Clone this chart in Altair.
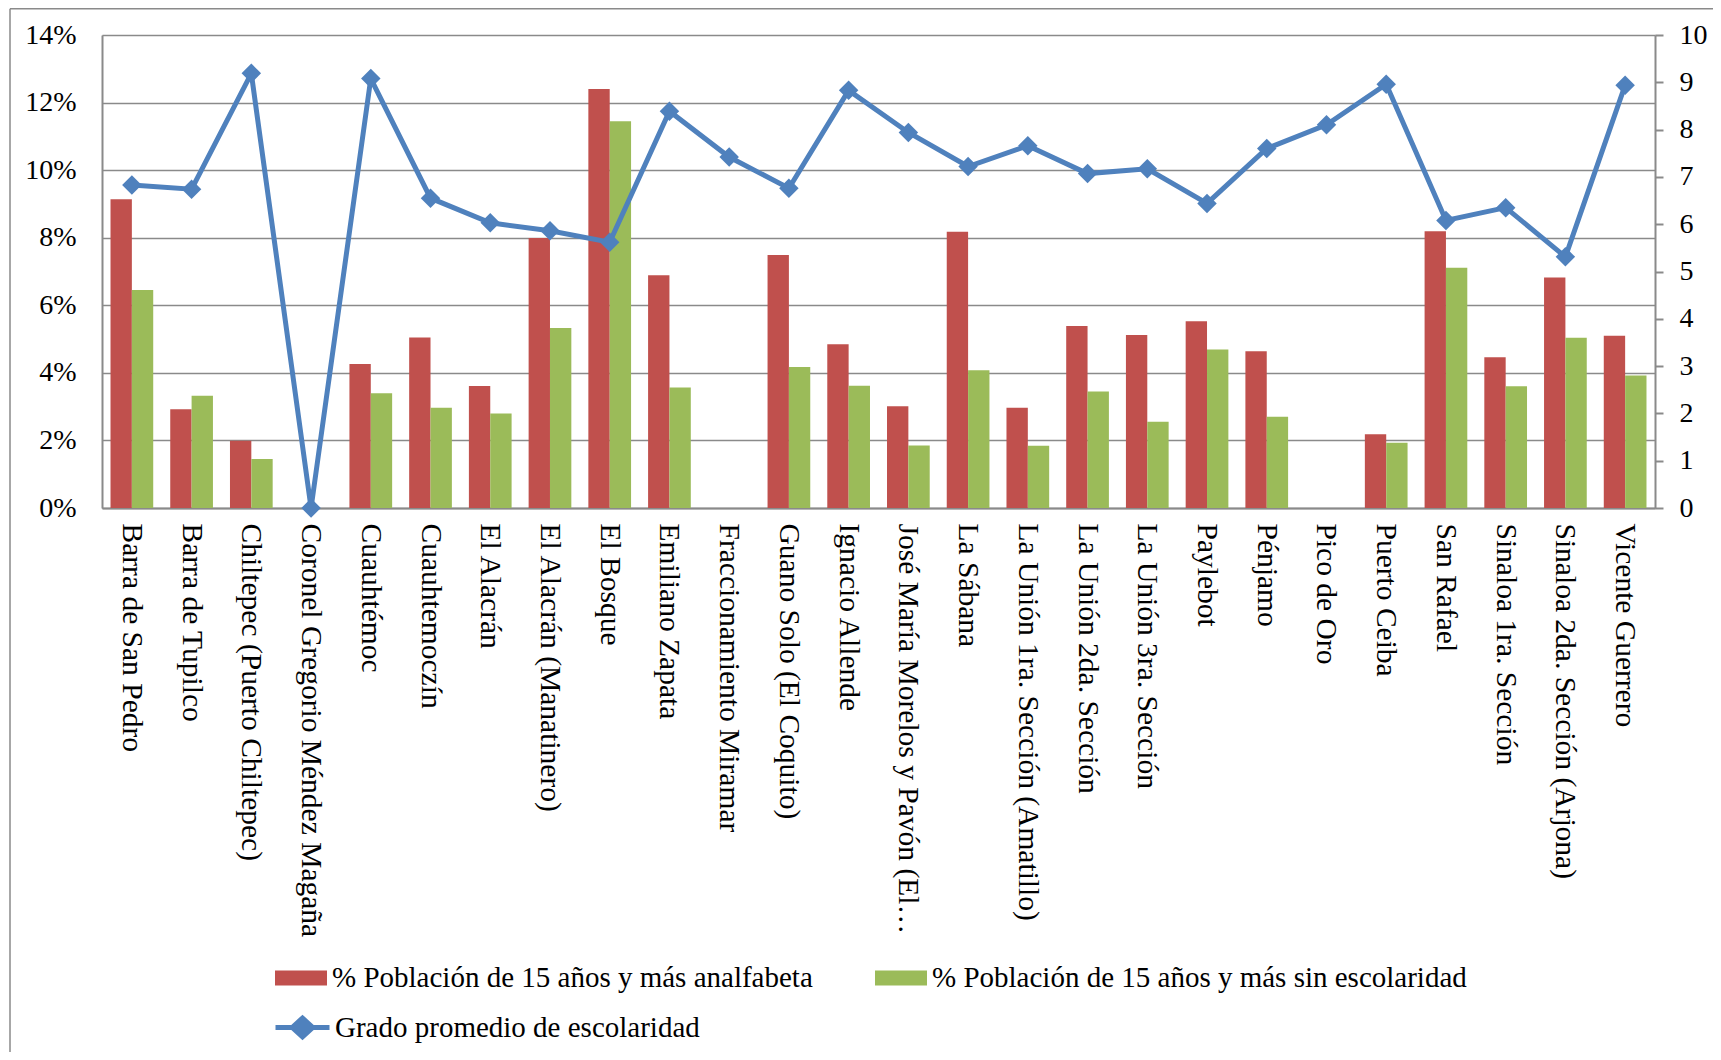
import altair as alt
import pandas as pd

categorias = [
    "Barra de San Pedro", "Barra de Tupilco", "Chiltepec (Puerto Chiltepec)",
    "Coronel Gregorio Méndez Magaña", "Cuauhtémoc", "Cuauhtemoczín", "El Alacrán",
    "El Alacrán (Manatinero)", "El Bosque", "Emiliano Zapata", "Fraccionamiento Miramar",
    "Guano Solo (El Coquito)", "Ignacio Allende", "José María Morelos y Pavón (El…",
    "La Sábana", "La Unión 1ra. Sección (Amatillo)", "La Unión 2da. Sección",
    "La Unión 3ra. Sección", "Paylebot", "Pénjamo", "Pico de Oro", "Puerto Ceiba",
    "San Rafael", "Sinaloa 1ra. Sección", "Sinaloa 2da. Sección (Arjona)", "Vicente Guerrero",
]
analfabeta = [9.14, 2.92, 1.99, 0, 4.26, 5.05, 3.61, 7.99, 12.40, 6.89, None, 7.49, 4.85,
              3.01, 8.18, 2.97, 5.39, 5.12, 5.53, 4.64, None, 2.18, 8.19, 4.46, 6.82, 5.10]
sin_escolaridad = [6.45, 3.32, 1.45, 0, 3.40, 2.97, 2.80, 5.33, 11.45, 3.57, None, 4.17, 3.62,
                   1.85, 4.08, 1.84, 3.45, 2.55, 4.69, 2.70, None, 1.93, 7.11, 3.60, 5.04, 3.92]
grado = [6.83, 6.74, 9.19, 0, 9.08, 6.55, 6.03, 5.86, 5.62, 8.39, 7.42, 6.76, 8.83,
         7.94, 7.22, 7.66, 7.07, 7.17, 6.44, 7.60, 8.10, 8.96, 6.08, 6.35, 5.31, 8.94]

S1 = "% Población de 15 años y más analfabeta"
S2 = "% Población de 15 años y más sin escolaridad"
S3 = "Grado promedio de escolaridad"
series_barras = [S1, S2]

RED, GREEN, BLUE = "#C0504D", "#9BBB59", "#4F81BD"
GRAY = "#8a8a8a"
FONT = "Liberation Serif"

rows = []
for c, a, s in zip(categorias, analfabeta, sin_escolaridad):
    rows.append({"cat": c, "serie": S1, "valor": a})
    rows.append({"cat": c, "serie": S2, "valor": s})
df_bars = pd.DataFrame(rows)
df_line = pd.DataFrame({"cat": categorias, "grado": grado, "serie_l": [S3] * len(categorias)})

x_axis = alt.Axis(title=None, labelAngle=90, labelAlign="left", labelBaseline="middle",
                  ticks=False, labelPadding=15, domainColor=GRAY, domainWidth=2,
                  labelFont=FONT, labelFontSize=29.5, labelColor="black", labelLimit=1000)
x_scale = alt.Scale(paddingInner=0.285, paddingOuter=0.1425)

rect_path = "M-1,-0.29H1V0.29H-1Z"
line_path = "M-1,0H1M0,-0.35L0.38,0L0,0.35L-0.38,0Z"

bars = alt.Chart(df_bars).mark_bar().encode(
    x=alt.X("cat:N", sort=categorias, scale=x_scale, axis=x_axis),
    xOffset=alt.XOffset("serie:N", sort=series_barras),
    y=alt.Y("valor:Q", scale=alt.Scale(domain=[0, 14], nice=False),
            axis=alt.Axis(title=None, orient="left", values=list(range(0, 15, 2)),
                          labelExpr="datum.value + '%'", grid=True, gridColor=GRAY,
                          gridWidth=1.5, ticks=False, labelPadding=26, domainColor=GRAY,
                          domainWidth=2, labelFont=FONT, labelFontSize=28,
                          labelColor="black")),
    color=alt.Color("serie:N", sort=series_barras,
                    scale=alt.Scale(domain=series_barras, range=[RED, GREEN]),
                    legend=alt.Legend(title=None, orient="none", legendX=173, legendY=917,
                                      direction="horizontal", columns=2, padding=0,
                                      symbolType=rect_path, symbolSize=2704,
                                      symbolStrokeWidth=0, labelOffset=5, columnPadding=62,
                                      labelFont=FONT, labelFontSize=29, labelColor="black",
                                      labelLimit=1000)),
)

line = alt.Chart(df_line).mark_line(
    strokeWidth=5,
    point=alt.OverlayMarkDef(shape="diamond", size=380, filled=True, color=BLUE),
).encode(
    x=alt.X("cat:N", sort=categorias, scale=x_scale, axis=x_axis),
    y=alt.Y("grado:Q", scale=alt.Scale(domain=[0, 10], nice=False),
            axis=alt.Axis(title=None, orient="right", values=list(range(0, 11)), grid=False,
                          tickSize=8, tickColor=GRAY, tickWidth=2, labelPadding=16,
                          domainColor=GRAY, domainWidth=2, labelFont=FONT,
                          labelFontSize=28, labelColor="black")),
    color=alt.Color("serie_l:N",
                    scale=alt.Scale(domain=[S3], range=[BLUE]),
                    legend=alt.Legend(title=None, orient="none", legendX=171, legendY=963,
                                      padding=0, symbolType=line_path, symbolSize=2916,
                                      symbolStrokeWidth=5, symbolFillColor=BLUE,
                                      symbolStrokeColor=BLUE, labelOffset=3,
                                      labelFont=FONT, labelFontSize=29, labelColor="black",
                                      labelLimit=1000)),
)

frame_df = pd.DataFrame({"k": [0]})
border_left = alt.Chart(frame_df).mark_rule(color=GRAY, strokeWidth=1.5).encode(
    x=alt.value(-92), y=alt.value(-26.2), y2=alt.value(1100))
border_top = alt.Chart(frame_df).mark_rule(color=GRAY, strokeWidth=1.5).encode(
    x=alt.value(-92), x2=alt.value(1620), y=alt.value(-26.2))

chart = alt.layer(bars, line, border_left, border_top).resolve_scale(
    y="independent", color="independent"
).properties(
    width=1553, height=473,
    autosize=alt.AutoSizeParams(type="none"),
    padding={"left": 94, "top": 27, "right": 58, "bottom": 544},
).configure_view(strokeWidth=0).configure(font=FONT)

chart.save("out.html", embed_options={"renderer": "svg", "actions": False})
